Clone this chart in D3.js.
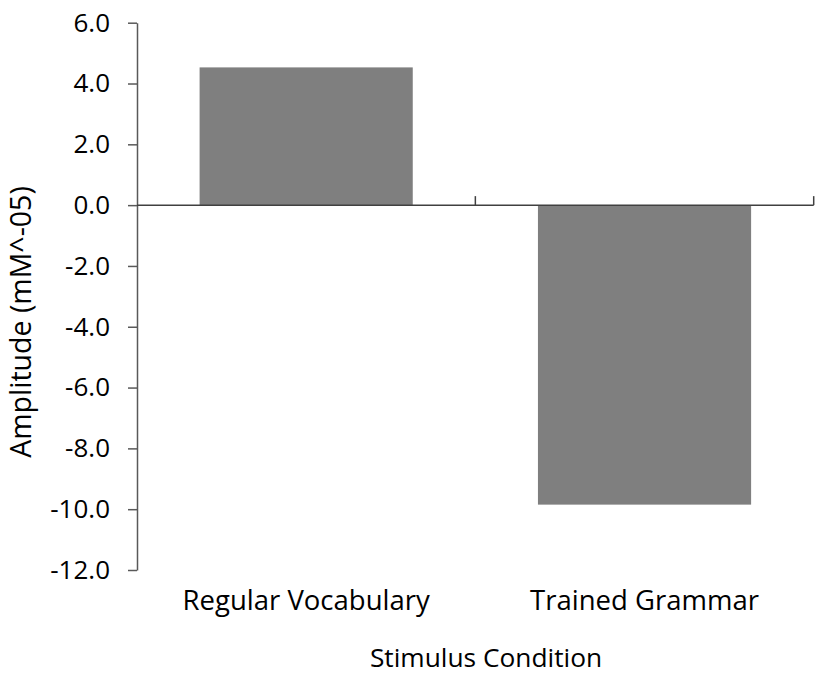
<!DOCTYPE html>
<html><head><meta charset="utf-8">
<script src="https://cdn.jsdelivr.net/npm/d3@7"></script>
<style>body{margin:0;background:#fff}svg{display:block}text{font-family:"Open Sans",Lato,sans-serif;fill:#000}</style>
</head><body>
<script>
const categories = ["Regular Vocabulary", "Trained Grammar"];
const values = [4.53, -9.85];
const yTicks = [6, 4, 2, 0, -2, -4, -6, -8, -10, -12];
const xTitle = "Stimulus Condition";
const yTitle = "Amplitude (mM^-05)";

const W = 817, H = 677;
const FS = 26;
const svg = d3.select("body").append("svg").attr("width", W).attr("height", H);
const mLeft = 137, mRight = 813.7, mTop = 22.7, mBottom = 570;
const x = d3.scaleBand().domain(categories).range([mLeft, mRight]).paddingInner(0.37).paddingOuter(0.185);
const y = d3.scaleLinear().domain([-12, 6]).range([mBottom, mTop]);

// bars
svg.selectAll("rect.bar").data(values).enter().append("rect")
  .attr("x", (d, i) => x(categories[i]))
  .attr("width", x.bandwidth())
  .attr("y", d => y(Math.max(0, d)))
  .attr("height", d => Math.abs(y(d) - y(0)))
  .attr("fill", "#7f7f7f");

// y axis
const yAxis = d3.axisLeft(y).tickValues(yTicks).tickFormat(d => d3.format(".1f")(d).replace("\u2212", "-")).tickSize(9).tickSizeOuter(0).tickPadding(18);
const gy = svg.append("g").attr("transform", `translate(${mLeft},0)`).call(yAxis);
gy.select(".domain").attr("stroke", "#595959").attr("stroke-width", 1.5);
gy.selectAll(".tick line").attr("stroke", "#595959").attr("stroke-width", 1.5);
gy.selectAll(".tick text").attr("font-size", FS).attr("fill", "#000").style("font-family", "'Open Sans', Lato, sans-serif");

// x axis at zero
const y0 = y(0);
svg.append("line").attr("x1", mLeft).attr("x2", mRight).attr("y1", y0).attr("y2", y0)
  .attr("stroke", "#404040").attr("stroke-width", 1.5);
const bounds = [x.step() + mLeft, mRight];
svg.selectAll("line.xt").data(bounds).enter().append("line")
  .attr("x1", d => d).attr("x2", d => d).attr("y1", y0).attr("y2", y0 - 9)
  .attr("stroke", "#404040").attr("stroke-width", 1.5);

// category labels
svg.selectAll("text.cat").data(categories).enter().append("text")
  .attr("x", d => x(d) + x.bandwidth() / 2).attr("y", 610)
  .attr("text-anchor", "middle").attr("font-size", 27.5).text(d => d);

svg.append("text").attr("x", 486).attr("y", 667).attr("text-anchor", "middle").attr("font-size", 26.3).text(xTitle);
svg.append("text").attr("transform", "translate(31,322) rotate(-90)").attr("text-anchor", "middle").attr("font-size", 28.5).text(yTitle);
</script>
</body></html>
